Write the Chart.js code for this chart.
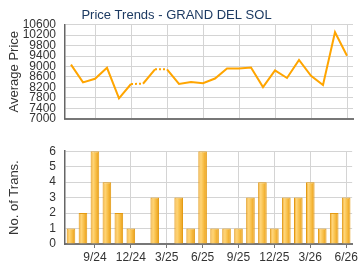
<!DOCTYPE html>
<html>
<head>
<meta charset="utf-8">
<script src="https://cdn.jsdelivr.net/npm/chart.js@4"></script>
<style>
    body { margin: 0; background: #fff; }
    #wrap { position: relative; width: 360px; height: 270px; }
    .box { position: absolute; left: 0; width: 360px; }
</style>
</head>
<body>
<div id="wrap">
    <div class="box" style="top:0;height:135px"><canvas id="priceChart"></canvas></div>
    <div class="box" style="top:135px;height:135px"><canvas id="transChart"></canvas></div>
</div>
<script>
// months from 7/24 to 6/26
const months = ['7/24','8/24','9/24','10/24','11/24','12/24','1/25','2/25','3/25','4/25','5/25','6/25',
    '7/25','8/25','9/25','10/25','11/25','12/25','1/26','2/26','3/26','4/26','5/26','6/26'];
const avgPrice = [9070, 8390, 8530, 8950, 7780, 8330, 8340, 8890, 8890, 8330, 8410, 8360,
    8540, 8920, 8920, 8960, 8210, 8850, 8560, 9250, 8640, 8290, 10310, 9410];
const transCount = [1, 2, 6, 4, 2, 1, 0, 3, 0, 3, 1, 6, 1, 1, 1, 3, 4, 1, 3, 3, 4, 1, 2, 3];
const shownLabels = ['9/24','12/24','3/25','6/25','9/25','12/25','3/26','6/26'];

const gridGray = '#d4d4d4';
const textGray = '#333';

function isShown(i) {
    return shownLabels.includes(months[i]);
}

function xGridColor(ctx) {
    return isShown(ctx.index) ? gridGray : 'rgba(0,0,0,0)';
}

const font = { family: 'Arial, "Liberation Sans", sans-serif', size: 12 };

// top chart: price line
new Chart(document.getElementById('priceChart'), {
    type: 'line',
    data: {
        labels: months,
        datasets: [{
            data: avgPrice,
            borderColor: '#ffa500',
            borderWidth: 2,
            pointRadius: 0,
            tension: 0,
            segment: {
                // dotted into months without transactions
                borderDash: ctx => transCount[ctx.p1DataIndex] === 0 ? [2, 2] : undefined
            }
        }]
    },
    options: {
        responsive: true,
        maintainAspectRatio: false,
        animation: false,
        layout: { padding: { right: 7, left: 0 } },
        plugins: {
            legend: { display: false },
            tooltip: { enabled: false },
            title: {
                display: true,
                text: 'Price Trends - GRAND DEL SOL',
                color: '#1c3a62',
                font: { family: font.family, size: 13, weight: 'normal' },
                padding: { top: 8, bottom: 1 }
            }
        },
        scales: {
            x: {
                offset: true,
                grid: { offset: false, color: xGridColor, drawTicks: false },
                border: { color: '#777', width: 2 },
                ticks: { display: false, autoSkip: false },
                afterFit: s => { s.height = 5; }
            },
            y: {
                min: 7000,
                max: 10600,
                grid: { color: gridGray, drawTicks: false },
                border: { color: '#666', width: 1.5 },
                ticks: { stepSize: 400, autoSkip: false, color: textGray, font: font, padding: 9, callback: v => String(v) },
                title: { display: true, text: 'Average Price', color: textGray, font: { family: font.family, size: 13 }, padding: { top: 7, bottom: 0 } },
                afterFit: s => { s.width = 65; }
            }
        }
    }
});

// bottom chart: number of transactions
function barFill(ctx) {
    const chart = ctx.chart;
    const area = chart.chartArea;
    if (!area || ctx.dataIndex === undefined) return '#f5b840';
    const cx = chart.scales.x.getPixelForValue(ctx.dataIndex);
    const g = chart.ctx.createLinearGradient(cx - 4.5, 0, cx + 4.5, 0);
    g.addColorStop(0, '#eea020');
    g.addColorStop(0.3, '#ffd67a');
    g.addColorStop(0.6, '#f8bf48');
    g.addColorStop(1, '#e89a10');
    return g;
}

new Chart(document.getElementById('transChart'), {
    type: 'bar',
    data: {
        labels: months,
        datasets: [{
            data: transCount,
            backgroundColor: barFill,
            borderColor: '#e39a12',
            borderWidth: 1,
            borderSkipped: 'bottom',
            barPercentage: 0.72,
            categoryPercentage: 1
        }]
    },
    options: {
        responsive: true,
        maintainAspectRatio: false,
        animation: false,
        layout: { padding: { top: 12, right: 7, left: 0 } },
        plugins: {
            legend: { display: false },
            tooltip: { enabled: false }
        },
        scales: {
            x: {
                offset: true,
                grid: { offset: false, color: xGridColor, tickColor: ctx => isShown(ctx.index) ? '#777' : 'rgba(0,0,0,0)', tickLength: 4 },
                border: { color: '#777', width: 2 },
                ticks: {
                    autoSkip: false,
                    maxRotation: 0,
                    color: textGray,
                    font: font,
                    padding: 2,
                    callback: (v, i) => isShown(i) ? months[i] : ''
                },
                afterFit: s => { s.height = 26; }
            },
            y: {
                min: 0,
                max: 6,
                grid: { color: gridGray, drawTicks: false },
                border: { color: '#666', width: 1.5 },
                ticks: { stepSize: 1, autoSkip: false, color: textGray, font: font, padding: 9 },
                title: { display: true, text: 'No. of Trans.', color: textGray, font: { family: font.family, size: 13 }, padding: { top: 7, bottom: 0 } },
                afterFit: s => { s.width = 65; }
            }
        }
    }
});
</script>
</body>
</html>
